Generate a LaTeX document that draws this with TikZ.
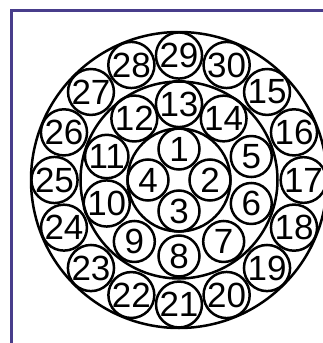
\documentclass[tikz,border=0pt]{standalone}
\usepackage{fontspec}
\setmainfont{Liberation Sans}
\usetikzlibrary{calc}
\definecolor{framecol}{HTML}{483D8B}
\begin{document}
\begin{tikzpicture}[x=1pt,y=1pt,
  ringc/.style={draw, circle, line width=2.5pt, inner sep=0pt},
  ball/.style={draw, circle, line width=2.5pt, inner sep=0pt, minimum size=41pt, font=\fontsize{35}{35}\selectfont},
  framebox/.style={draw=framecol, line width=3pt}]
\useasboundingbox (0,0) rectangle (323,-343);
\clip (0,0) rectangle (323,-343);
\coordinate (c) at (179,-180);
\draw[framebox] (11,-10) rectangle (345,-365);
\node[ringc, minimum size=296pt] (outer) at (c) {};
\node[ringc, minimum size=197pt] (middle) at (c) {};
\node[ringc, minimum size=103pt] (inner) at (c) {};
\foreach \n [count=\i from 0] in {1,2,3,4}
  \node[ball] (b\n) at ($(c)+({90-90*\i}:31)$) {\n};
\foreach \n [count=\i from 0] in {13,14,5,6,7,8,9,10,11,12}
  \node[ball] (b\n) at ($(c)+({90-36*\i}:76)$) {\n};
\foreach \n [count=\i from 0] in {29,30,15,16,17,18,19,20,21,22,23,24,25,26,27,28}
  \node[ball] (b\n) at ($(c)+({90-22.5*\i}:124.5)$) {\n};
\end{tikzpicture}
\end{document}
